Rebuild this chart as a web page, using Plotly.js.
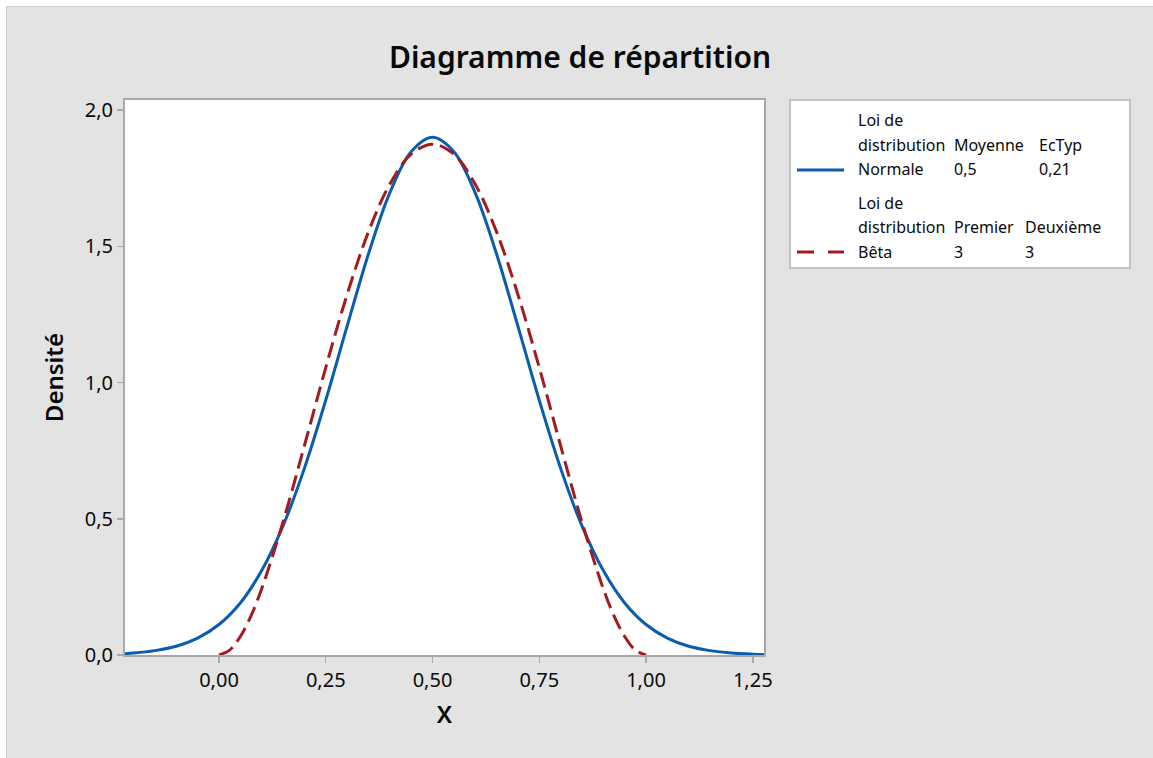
<!DOCTYPE html>
<html>
<head>
<meta charset="utf-8">
<script src="https://cdn.plot.ly/plotly-3.0.1.min.js"></script>
<style>
  html, body { margin: 0; padding: 0; background: #ffffff; width: 1153px; height: 758px; overflow: hidden; }
  #frame { position: absolute; left: 6px; top: 6px; width: 1147px; height: 752px; background: #cdcdcd; }
  #plot { position: absolute; left: 7px; top: 7px; width: 1146px; height: 751px; }
</style>
</head>
<body>
<div id="frame"></div>
<div id="plot"></div>
<script>
// Normal distribution (Moyenne 0,5 ; EcTyp 0,21) – density
const normalX = [-0.22, -0.20, -0.15, -0.10, -0.05, 0.00, 0.05, 0.10, 0.15, 0.20, 0.25, 0.30, 0.35, 0.40, 0.45, 0.50,
                 0.55, 0.60, 0.65, 0.70, 0.75, 0.80, 0.85, 0.90, 0.95, 1.00, 1.05, 1.10, 1.15, 1.20, 1.25, 1.276];
const normalY = [0.005, 0.007, 0.016, 0.032, 0.062, 0.112, 0.191, 0.310, 0.474, 0.685, 0.935, 1.207, 1.472, 1.696, 1.847, 1.900,
                 1.847, 1.696, 1.472, 1.207, 0.935, 0.685, 0.474, 0.310, 0.191, 0.112, 0.062, 0.032, 0.016, 0.007, 0.003, 0.002];

// Beta distribution (Premier 3 ; Deuxième 3) – density
const betaX = [0, 0.025, 0.05, 0.075, 0.10, 0.15, 0.20, 0.25, 0.30, 0.35, 0.40, 0.45, 0.50,
               0.55, 0.60, 0.65, 0.70, 0.75, 0.80, 0.85, 0.90, 0.925, 0.95, 0.975, 1.0];
const betaY = [0, 0.018, 0.068, 0.144, 0.243, 0.488, 0.768, 1.055, 1.323, 1.553, 1.728, 1.838, 1.875,
               1.838, 1.728, 1.553, 1.323, 1.055, 0.768, 0.488, 0.243, 0.144, 0.068, 0.018, 0];

// Legend table texts
const legendHeader1 = ["Loi de", "distribution", "Moyenne", "EcTyp"];
const legendRow1 = ["Normale", "0,5", "0,21"];
const legendHeader2 = ["Loi de", "distribution", "Premier", "Deuxième"];
const legendRow2 = ["Bêta", "3", "3"];

const chartTitle = "Diagramme de répartition";
const xTitle = "X";
const yTitle = "Densité";

const blue = "#0a5cad";
const red = "#a21c1f";
const font = "Noto Sans, Open Sans, sans-serif";

const traces = [
  { x: normalX, y: normalY, type: "scatter", mode: "lines", name: "Normale",
    line: { color: blue, width: 3, shape: "spline", smoothing: 1 }, hoverinfo: "skip" },
  { x: betaX, y: betaY, type: "scatter", mode: "lines", name: "Bêta",
    line: { color: red, width: 3, dash: "16px,7px", shape: "spline", smoothing: 1 }, hoverinfo: "skip" }
];

// pixel (page) -> paper helpers
const PL = 125, PW = 639, PB = 655, PH = 555;
const px = p => (p - PL) / PW;
const py = p => (PB - p) / PH;

const col1 = px(856), col2 = px(952), col3a = px(1037), col3b = px(1023);
const lf = { family: font, size: 16, color: "#0a0a0a" };
function ann(text, x, y) {
  return { text: text, x: x, y: y, xref: "paper", yref: "paper", xanchor: "left", yanchor: "middle",
           showarrow: false, font: lf };
}
const annotations = [
  ann(legendHeader1[0], col1, py(120)),
  ann(legendHeader1[1], col1, py(145)),
  ann(legendHeader1[2], col2, py(145)),
  ann(legendHeader1[3], col3a, py(145)),
  ann(legendRow1[0], col1, py(169)),
  ann(legendRow1[1], col2, py(169)),
  ann(legendRow1[2], col3a, py(169)),
  ann(legendHeader2[0], col1, py(203)),
  ann(legendHeader2[1], col1, py(227)),
  ann(legendHeader2[2], col2, py(227)),
  ann(legendHeader2[3], col3b, py(227)),
  ann(legendRow2[0], col1, py(252)),
  ann(legendRow2[1], col2, py(252)),
  ann(legendRow2[2], col3b, py(252))
];

const shapes = [
  { type: "rect", xref: "paper", yref: "paper", x0: px(790), x1: px(1130), y0: py(268), y1: py(100),
    fillcolor: "#ffffff", line: { color: "#b4b4b4", width: 1.5 }, layer: "below" },
  { type: "line", xref: "paper", yref: "paper", x0: px(797), x1: px(844), y0: py(170), y1: py(170),
    line: { color: blue, width: 3 } },
  { type: "line", xref: "paper", yref: "paper", x0: px(797), x1: px(844), y0: py(252), y1: py(252),
    line: { color: red, width: 3, dash: "17px,14px" } }
];

const layout = {
  width: 1146, height: 751,
  margin: { l: 118, r: 389, t: 93, b: 103, pad: 0 },
  paper_bgcolor: "#e3e3e3",
  plot_bgcolor: "#ffffff",
  separators: ",.",
  showlegend: false,
  title: { text: chartTitle, xref: "container", x: 0.5, xanchor: "center", yref: "container", y: 1 - 50 / 751, yanchor: "middle",
           font: { family: font, size: 30, color: "#0a0a0a", weight: 600 } },
  xaxis: {
    range: [-0.2201, 1.2763], tick0: 0, dtick: 0.25, tickformat: ".2f",
    showgrid: false, zeroline: false, showline: true, mirror: true, linecolor: "#a9a9a9", linewidth: 2,
    ticks: "outside", ticklen: 6, tickcolor: "#a9a9a9", tickwidth: 1.5,
    tickfont: { family: font, size: 20, color: "#0a0a0a" },
    title: { text: xTitle, standoff: 14, font: { family: font, size: 24, color: "#0a0a0a", weight: 600 } }
  },
  yaxis: {
    range: [0, 2.037], tick0: 0, dtick: 0.5, tickformat: ".1f",
    showgrid: false, zeroline: false, showline: true, mirror: true, linecolor: "#a9a9a9", linewidth: 2,
    ticks: "outside", ticklen: 6, tickcolor: "#a9a9a9", tickwidth: 1.5,
    tickfont: { family: font, size: 20, color: "#0a0a0a" },
    title: { text: yTitle, standoff: 14, font: { family: font, size: 24, color: "#0a0a0a", weight: 600 } }
  },
  shapes: shapes,
  annotations: annotations
};

Plotly.newPlot("plot", traces, layout, { staticPlot: true, displayModeBar: false });
</script>
</body>
</html>
